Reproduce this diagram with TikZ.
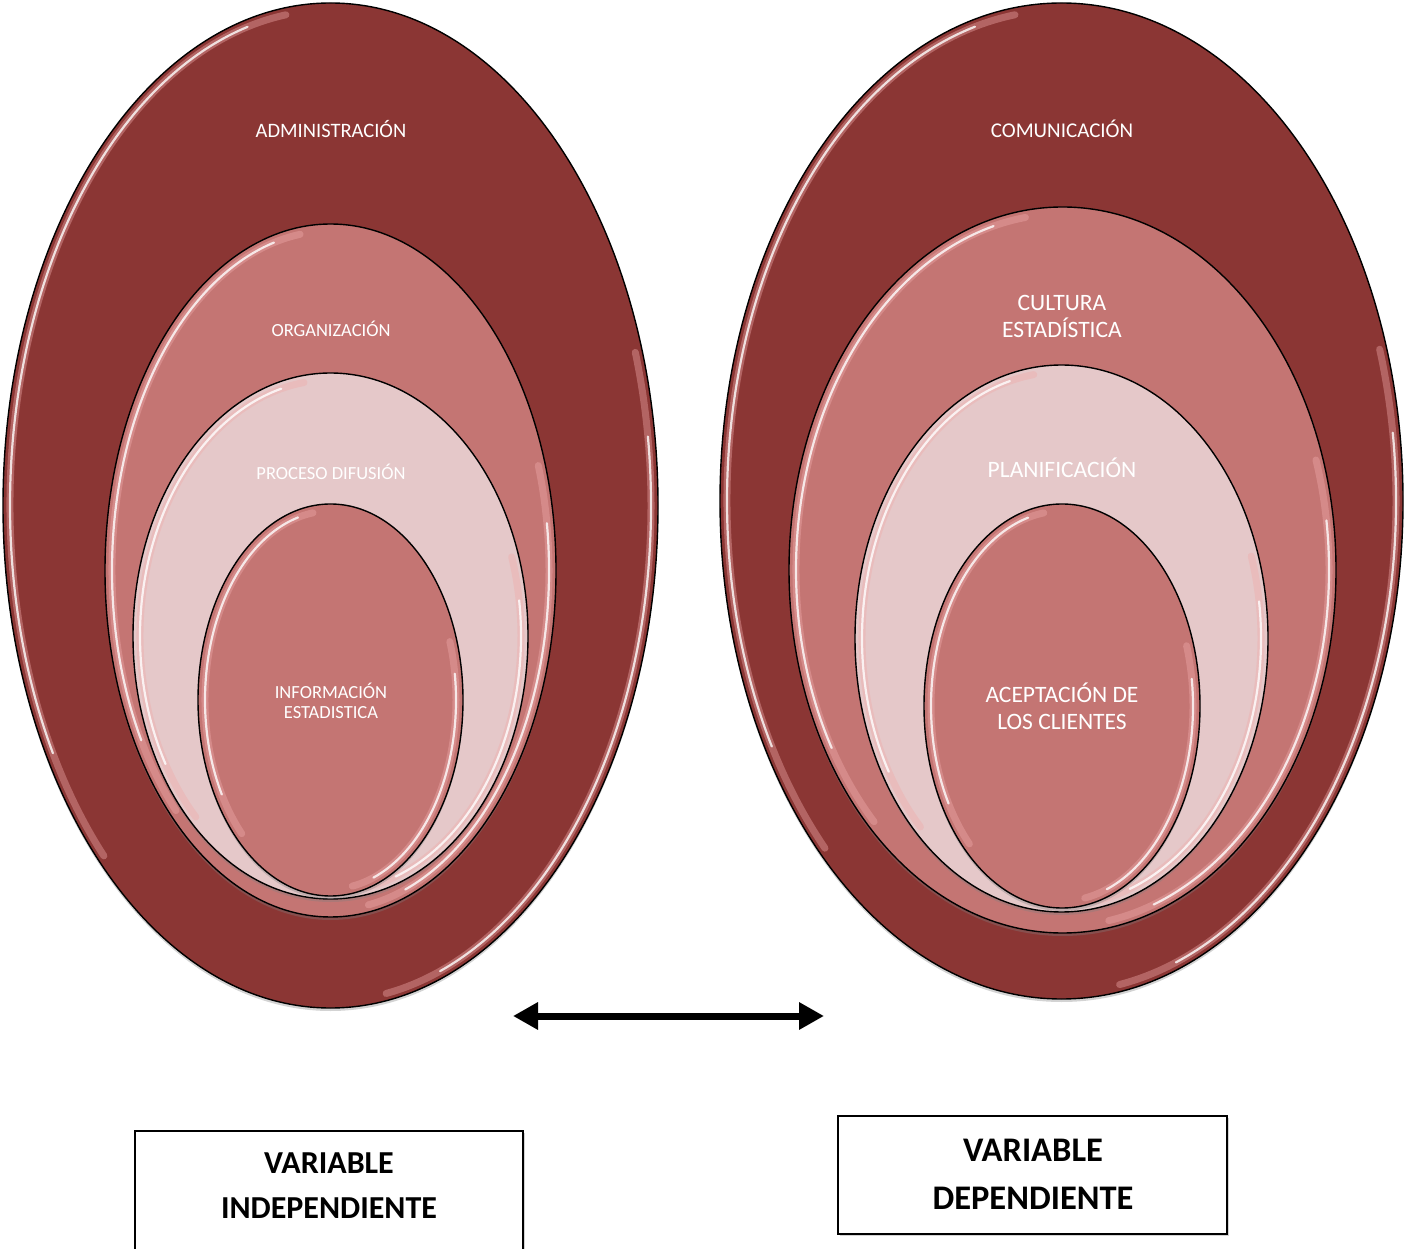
\documentclass[tikz,border=0pt]{standalone}
\usepackage{fontspec}
\setmainfont{Carlito}
\usetikzlibrary{shapes.geometric,arrows.meta,shadows}
\definecolor{dk}{RGB}{139,54,52}
\definecolor{md}{RGB}{196,117,115}
\definecolor{lt}{RGB}{229,200,201}
\definecolor{glowc}{RGB}{240,170,170}
\tikzset{
  ring/.style={ellipse, draw=black, line width=1.4pt, inner sep=0pt,
    drop shadow={shadow xshift=0pt, shadow yshift=-3pt, opacity=0.35}},
  lbl/.style={text=white, align=center, inner sep=0pt},
  hlw/.style={draw=white, line width=2.2pt, opacity=0.8, line cap=round},
  hlg/.style={draw=glowc, line width=7pt, opacity=0.4, line cap=round},
  varbox/.style={draw=black, line width=1.5pt, fill=white, inner sep=0pt,
    drop shadow={shadow xshift=1.5pt, shadow yshift=-1.5pt, opacity=0.35}},
  vartext/.style={align=center, inner sep=0pt, font=\bfseries}
}
\newcommand{\glossring}[4]{%
  \draw[hlg] (#1,#2) ++(98:#3pt and #4pt) arc[start angle=98,end angle=225,x radius=#3pt,y radius=#4pt];
  \draw[hlw] (#1,#2) ++(105:#3pt and #4pt) arc[start angle=105,end angle=210,x radius=#3pt,y radius=#4pt];
  \draw[hlg] (#1,#2) ++(-80:#3pt and #4pt) arc[start angle=-80,end angle=18,x radius=#3pt,y radius=#4pt];
  \draw[hlw] (#1,#2) ++(-70:#3pt and #4pt) arc[start angle=-70,end angle=8,x radius=#3pt,y radius=#4pt];
}
\begin{document}
\begin{tikzpicture}[x=1pt,y=1pt]
\useasboundingbox (0,0) rectangle (1404,1248);

% ---- left set ----
\node[ring, fill=dk, minimum width=655pt, minimum height=1005pt] (L1) at (330.5,742.5) {};
\glossring{330.5}{742.5}{320.5}{495.5}
\node[ring, fill=md, minimum width=451pt, minimum height=693pt] (L2) at (330.5,677.5) {};
\glossring{330.5}{677.5}{218.5}{339.5}
\node[ring, fill=lt, minimum width=395pt, minimum height=526pt] (L3) at (330.5,612) {};
\glossring{330.5}{612}{190.5}{256}
\node[ring, fill=md, minimum width=265pt, minimum height=392pt] (L4) at (330.5,548) {};
\glossring{330.5}{548}{125.5}{189}

% ---- right set ----
\node[ring, fill=dk, minimum width=683pt, minimum height=996pt] (R1) at (1061.5,747) {};
\glossring{1061.5}{747}{334.5}{491}
\node[ring, fill=md, minimum width=547pt, minimum height=726pt] (R2) at (1062.5,678) {};
\glossring{1062.5}{678}{266.5}{356}
\node[ring, fill=lt, minimum width=413pt, minimum height=547pt] (R3) at (1061.5,609.5) {};
\glossring{1061.5}{609.5}{199.5}{266.5}
\node[ring, fill=md, minimum width=276pt, minimum height=404pt] (R4) at (1062,542) {};
\glossring{1062}{542}{131}{195}

% ---- labels ----
\node[lbl, font=\fontsize{20.5}{24}\selectfont] (tL1) at (331,1119) {ADMINISTRACIÓN};
\node[lbl, font=\fontsize{18.5}{20}\selectfont] (tL2) at (331,919) {ORGANIZACIÓN};
\node[lbl, font=\fontsize{18.5}{20}\selectfont] (tL3) at (331,776) {PROCESO DIFUSIÓN};
\node[lbl, font=\fontsize{18.5}{20}\selectfont] (tL4) at (331,547) {INFORMACIÓN\\ESTADISTICA};

\node[lbl, font=\fontsize{21}{24}\selectfont] (tR1) at (1062,1119) {COMUNICACIÓN};
\node[lbl, font=\fontsize{23.5}{27}\selectfont] (tR2) at (1062,931.5) {CULTURA\\ESTADÍSTICA};
\node[lbl, font=\fontsize{23.5}{27}\selectfont] (tR3) at (1062,780) {PLANIFICACIÓN};
\node[lbl, font=\fontsize{23.5}{27}\selectfont] (tR4) at (1062,541.5) {ACEPTACIÓN DE\\LOS CLIENTES};

% ---- arrow ----
\coordinate (aL) at (513,232);
\coordinate (aR) at (824,232);
\draw[line width=7pt, {Triangle[length=25pt,width=26pt]}-{Triangle[length=25pt,width=26pt]}] (aL) -- (aR);

% ---- boxes ----
\node[varbox, minimum width=388pt, minimum height=140pt] (bL) at (329,47) {};
\node[vartext, font=\bfseries\fontsize{32}{45}\selectfont] (tbL) at (329,62.5) {VARIABLE\\INDEPENDIENTE};
\node[varbox, minimum width=389pt, minimum height=118pt] (bR) at (1032.5,73) {};
\node[vartext, font=\bfseries\fontsize{34.5}{48}\selectfont] (tbR) at (1033,74) {VARIABLE\\DEPENDIENTE};
\end{tikzpicture}
\end{document}
